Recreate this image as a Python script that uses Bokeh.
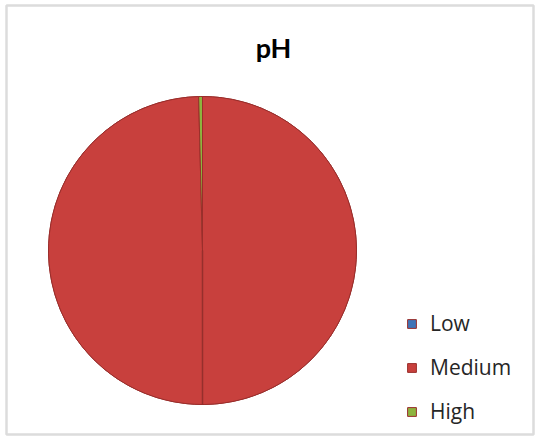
import math
from bokeh.plotting import figure
from bokeh.models import ColumnDataSource, Range1d, Label, Legend, LegendItem, BoxAnnotation
from bokeh.embed import file_html
from bokeh.resources import INLINE

# ---- data ----
categories = ["Low", "Medium", "High"]
values = [0.0, 99.6, 0.4]
colors = ["#3f74b8", "#c8403d", "#8db43e"]
title_text = "pH"

# ---- layout constants (pixels, 1 data unit = 1 px) ----
W, H = 536, 436
CX, CY, R = 202, H - 250, 154

total = sum(values)
starts, ends = [], []
cum = 0.0
for v in values:
    a0 = math.pi / 2 - 2 * math.pi * cum / total
    cum += v
    a1 = math.pi / 2 - 2 * math.pi * cum / total
    starts.append(a0)
    ends.append(a1)

src = ColumnDataSource(dict(cat=categories, val=values, start=starts, end=ends, color=colors))

p = figure(width=W, height=H, output_backend="svg", toolbar_location=None,
           x_range=Range1d(0, W), y_range=Range1d(0, H), min_border=0)
p.axis.visible = False
p.grid.visible = False
p.background_fill_color = "white"
p.border_fill_color = "white"
p.outline_line_color = None

# chart-area border
p.add_layout(BoxAnnotation(left=6, right=533, top=H - 5, bottom=H - 434,
                           fill_alpha=0, line_color="#8c8c8c", line_width=2.5))

r = p.wedge(x=CX, y=CY, radius=R, start_angle="start", end_angle="end",
            direction="clock", fill_color="color", line_color="#9a2e2b",
            line_width=1, source=src)

# seam of the bevelled pie from centre to bottom
p.ray(x=[CX], y=[CY], length=R, angle=-math.pi / 2, line_color="#8a2a28",
      line_width=1.5, line_alpha=0.8)

items = [LegendItem(label=c, renderers=[r], index=i) for i, c in enumerate(categories)]
legend = Legend(items=items, location=(406, 11), orientation="vertical",
                glyph_width=11, glyph_height=11, label_standoff=13,
                label_height=26, spacing=16, padding=0, margin=0,
                border_line_color=None, background_fill_alpha=0,
                label_text_font="Open Sans", label_text_font_size="21px",
                label_text_color="#262626")
p.add_layout(legend, "center")

p.add_layout(Label(x=273, y=H - 47, x_units="screen", y_units="screen",
                   text=title_text, text_font="Lato", text_font_style="bold",
                   text_font_size="27px", text_align="center",
                   text_baseline="alphabetic", text_color="black"))

open("out.html", "w").write(file_html(p, INLINE))
